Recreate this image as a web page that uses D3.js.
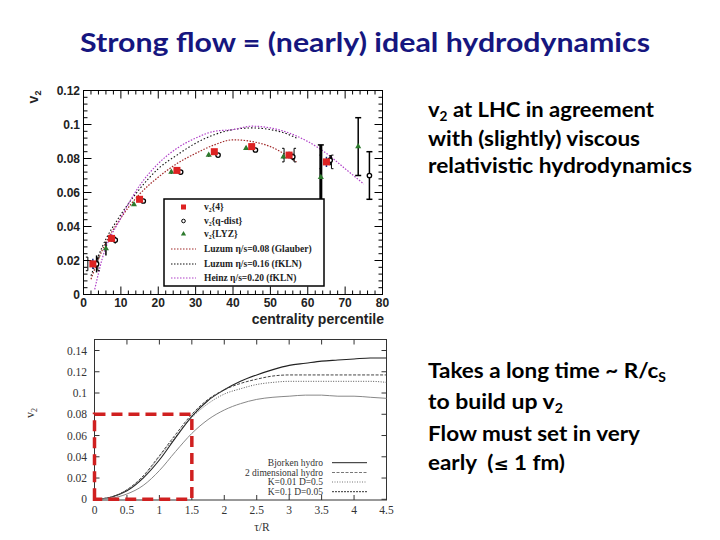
<!DOCTYPE html>
<html><head><meta charset="utf-8">
<script src="https://cdn.jsdelivr.net/npm/d3@7"></script>
<style>body{margin:0;background:#fff}svg{display:block}</style>
</head><body>
<svg id="c" width="720" height="540"></svg>
<script>
// ---- top chart data (v2 vs centrality) ----
const v24X = [2.5, 7.5, 15, 25, 35, 45, 55, 65];
const v24Y = [0.018, 0.033, 0.056, 0.073, 0.084, 0.087, 0.082, 0.078];
const v24E = [0.003, 0.002, 0.001, 0.001, 0.001, 0.0015, 0.002, 0.003];
const qX = [3.5, 8.5, 16, 26, 36, 46, 56, 66, 76.5];
const qY = [0.018, 0.032, 0.055, 0.072, 0.082, 0.085, 0.081, 0.079, 0.070];
const qE = [0.005, 0.002, 0.001, 0.001, 0.001, 0.001, 0.002, 0.003, 0.014];
const lyzX = [6, 13.5, 23.5, 33.5, 43.5, 53.5, 63.5, 73.5];
const lyzY = [0.027, 0.053, 0.072, 0.082, 0.086, 0.081, 0.069, 0.087];
const lyzE = [0.004, 0.001, 0.001, 0.001, 0.001, 0.001, 0.019, 0.017];
const glauberX = [2, 5, 10, 15, 20, 25, 30, 35, 40, 45, 50, 55, 57];
const glauberY = [0.009, 0.026, 0.045, 0.059, 0.069, 0.077, 0.083, 0.088, 0.091, 0.090, 0.087, 0.081, 0.078];
const kln16X = [2, 5, 10, 15, 20, 25, 30, 35, 40, 45, 50, 55, 57];
const kln16Y = [0.011, 0.028, 0.047, 0.062, 0.074, 0.082, 0.089, 0.094, 0.097, 0.098, 0.097, 0.094, 0.092];
const heinzX = [3, 5, 10, 15, 20, 25, 30, 35, 40, 45, 50, 55, 60, 65, 70, 75];
const heinzY = [0.003, 0.021, 0.045, 0.064, 0.077, 0.086, 0.092, 0.096, 0.097, 0.099, 0.098, 0.095, 0.090, 0.083, 0.074, 0.065];
const topXTicks = [0, 10, 20, 30, 40, 50, 60, 70, 80];
const topYTicks = [0, 0.02, 0.04, 0.06, 0.08, 0.1, 0.12];
const topYLabels = ["0", "0.02", "0.04", "0.06", "0.08", "0.1", "0.12"];
const topLegend = ["v\u2082{4}", "v\u2082{q-dist}", "v\u2082{LYZ}", "Luzum \u03b7/s=0.08 (Glauber)", "Luzum \u03b7/s=0.16 (fKLN)", "Heinz \u03b7/s=0.20 (fKLN)"];

// ---- bottom chart data (v2 vs tau/R) ----
const tauX = [0, 0.25, 0.5, 0.75, 1, 1.25, 1.5, 1.75, 2, 2.25, 2.5, 2.75, 3, 3.25, 3.5, 3.75, 4, 4.25, 4.5];
const bjorkenY = [0, 0.002, 0.008, 0.020, 0.037, 0.058, 0.078, 0.093, 0.103, 0.111, 0.117, 0.122, 0.126, 0.128, 0.130, 0.131, 0.132, 0.133, 0.133];
const hydro2dY = [0, 0.002, 0.009, 0.022, 0.041, 0.061, 0.080, 0.094, 0.103, 0.109, 0.113, 0.116, 0.117, 0.117, 0.117, 0.117, 0.117, 0.117, 0.117];
const k001Y = [0, 0.002, 0.009, 0.021, 0.040, 0.059, 0.077, 0.090, 0.099, 0.104, 0.108, 0.110, 0.111, 0.111, 0.111, 0.111, 0.111, 0.111, 0.110];
const k01Y = [0, 0.001, 0.005, 0.013, 0.027, 0.045, 0.062, 0.075, 0.084, 0.090, 0.094, 0.096, 0.097, 0.098, 0.098, 0.097, 0.097, 0.096, 0.095];
const botXTicks = [0, 0.5, 1, 1.5, 2, 2.5, 3, 3.5, 4, 4.5];
const botXLabels = ["0", "0.5", "1", "1.5", "2", "2.5", "3", "3.5", "4", "4.5"];
const botYTicks = [0, 0.02, 0.04, 0.06, 0.08, 0.1, 0.12, 0.14];
const botYLabels = ["0", "0.02", "0.04", "0.06", "0.08", "0.1", "0.12", "0.14"];
const botLegend = ["Bjorken hydro", "2 dimensional hydro", "K=0.01 D=0.5", "K=0.1 D=0.05"];
const boxCorner = [1.5, 0.08];

const svg = d3.select("#c");
const slideFont = "Lato, 'Open Sans', sans-serif";

// ---- title ----
svg.append("text").attr("x", 80).attr("y", 52).attr("textLength", 570).attr("lengthAdjust", "spacingAndGlyphs")
  .attr("font-family", slideFont).attr("font-weight", "bold").attr("font-size", 26).attr("fill", "#16167f")
  .text("Strong flow = (nearly) ideal hydrodynamics");

// ---- right text ----
function richLine(x, y, w, parts) {
  const t = svg.append("text").attr("x", x).attr("y", y).attr("font-family", slideFont)
    .attr("font-weight", "bold").attr("font-size", 21).attr("fill", "#000");
  parts.forEach(p => {
    const s = t.append("tspan").text(p[0]);
    if (p[1] === "sub") s.attr("font-size", 13).attr("dy", 4);
    if (p[1] === "back") s.attr("dy", -4);
    if (p[1] === "sym") s.attr("font-family", "'DejaVu Sans', sans-serif").attr("font-size", 17);
  });
  t.attr("textLength", w).attr("lengthAdjust", "spacingAndGlyphs");
}
richLine(428, 117, 226, [["v"], ["2", "sub"], [" at LHC in agreement", "back"]]);
richLine(428, 146, 212, [["with (slightly) viscous"]]);
richLine(428, 173, 264, [["relativistic hydrodynamics"]]);
richLine(428, 378, 238, [["Takes a long time ~ R/c"], ["S", "sub"]]);
richLine(428, 409, 135, [["to build up v"], ["2", "sub"]]);
richLine(428, 441, 212, [["Flow must set in very"]]);
richLine(428, 470, 137, [["early\u00a0\u00a0("], ["\u2264", "sym"], ["\u00a01 fm)"]]);

// ================= TOP CHART =================
const L = 83.5, R = 382.5, T = 90.5, B = 294.5;
const x = d3.scaleLinear().domain([0, 80]).range([L, R]);
const y = d3.scaleLinear().domain([0, 0.12]).range([B, T]);
const g = svg.append("g");
g.append("rect").attr("x", L).attr("y", T).attr("width", R - L).attr("height", B - T)
  .attr("fill", "none").attr("stroke", "#000").attr("stroke-width", 1);
const xMinor = d3.range(0, 80.01, 2);
const yMinor = d3.range(0, 0.1201, 0.004);
xMinor.forEach(v => {
  const major = Math.abs(v % 10) < 1e-6;
  const len = major ? 8 : 4;
  g.append("line").attr("x1", x(v)).attr("x2", x(v)).attr("y1", B).attr("y2", B - len).attr("stroke", "#000");
  g.append("line").attr("x1", x(v)).attr("x2", x(v)).attr("y1", T).attr("y2", T + len).attr("stroke", "#000");
});
yMinor.forEach((v, i) => {
  const major = i % 5 === 0;
  const len = major ? 8 : 4;
  g.append("line").attr("y1", y(v)).attr("y2", y(v)).attr("x1", L).attr("x2", L + len).attr("stroke", "#000");
  g.append("line").attr("y1", y(v)).attr("y2", y(v)).attr("x1", R).attr("x2", R - len).attr("stroke", "#000");
});
const axFont = "'Liberation Sans', Arial, sans-serif";
topXTicks.forEach(v => g.append("text").attr("x", x(v)).attr("y", 307).attr("text-anchor", "middle")
  .attr("font-family", axFont).attr("font-weight", "bold").attr("font-size", 12).attr("fill", "#222").text(v));
topYTicks.forEach((v, i) => g.append("text").attr("x", 80).attr("y", y(v) + 4).attr("text-anchor", "end")
  .attr("font-family", axFont).attr("font-weight", "bold").attr("font-size", 12).attr("fill", "#222").text(topYLabels[i]));
g.append("text").attr("x", 384).attr("y", 324).attr("text-anchor", "end").attr("font-family", axFont)
  .attr("font-weight", "bold").attr("font-size", 14).attr("fill", "#222").text("centrality percentile");
const yl = g.append("text").attr("transform", "translate(38,97) rotate(-90)").attr("text-anchor", "middle")
  .attr("font-family", axFont).attr("font-weight", "bold").attr("font-size", 14).attr("fill", "#222");
yl.append("tspan").text("v");
yl.append("tspan").attr("font-size", 9).attr("dy", 3).text("2");

const line = d3.line().x(d => x(d[0])).y(d => y(d[1])).curve(d3.curveMonotoneX);
const zip = (a, b) => a.map((v, i) => [v, b[i]]);
g.append("path").attr("d", line(zip(glauberX, glauberY))).attr("fill", "none").attr("stroke", "#a02828")
  .attr("stroke-width", 1.2).attr("stroke-dasharray", "1.5,1.5");
g.append("path").attr("d", line(zip(kln16X, kln16Y))).attr("fill", "none").attr("stroke", "#111")
  .attr("stroke-width", 1.1).attr("stroke-dasharray", "1.5,2");
g.append("path").attr("d", line(zip(heinzX, heinzY))).attr("fill", "none").attr("stroke", "#b040c8")
  .attr("stroke-width", 1.2).attr("stroke-dasharray", "1.5,1.5");

function errBars(X, Y, E, color, widths) {
  X.forEach((v, i) => {
    g.append("line").attr("x1", x(v)).attr("x2", x(v)).attr("y1", y(Y[i] - E[i])).attr("y2", y(Y[i] + E[i]))
      .attr("stroke", color).attr("stroke-width", widths ? widths[i] : 1.5);
    if (E[i] > 0.005) {
      [Y[i] - E[i], Y[i] + E[i]].forEach(e => g.append("line").attr("x1", x(v) - 3).attr("x2", x(v) + 3)
        .attr("y1", y(e)).attr("y2", y(e)).attr("stroke", color).attr("stroke-width", 1.5));
    }
  });
}
v24X.forEach((v, i) => {
  if (i === 0 || i >= 6) {
    const h = 0.004;
    [-1, 1].forEach(s => {
      const xx = x(v) + s * 5;
      g.append("path").attr("d", `M${xx + s * 2},${y(v24Y[i] + h)}H${xx}V${y(v24Y[i] - h)}H${xx + s * 2}`)
        .attr("fill", "none").attr("stroke", "#000").attr("stroke-width", 1);
    });
  }
});
errBars(qX, qY, qE, "#000", qX.map(() => 1.5));
errBars(lyzX, lyzY, lyzE, "#000", lyzX.map((v, i) => i === 6 ? 3 : 1.5));
errBars(v24X, v24Y, v24E, "#1a2a80");
g.selectAll(".q").data(zip(qX, qY)).join("circle").attr("cx", d => x(d[0])).attr("cy", d => y(d[1]))
  .attr("r", 2.2).attr("fill", "#fff").attr("stroke", "#000").attr("stroke-width", 1.3);
const tri = d3.symbol().type(d3.symbolTriangle).size(16);
g.selectAll(".t").data(zip(lyzX, lyzY)).join("path").attr("d", tri)
  .attr("transform", d => `translate(${x(d[0])},${y(d[1])})`).attr("fill", "#2d7a2d");
g.selectAll(".s").data(zip(v24X, v24Y)).join("rect").attr("x", d => x(d[0]) - 3.5).attr("y", d => y(d[1]) - 3.5)
  .attr("width", 7).attr("height", 7).attr("fill", "#dd2222");

const lg = g.append("g");
lg.append("rect").attr("x", 164).attr("y", 199).attr("width", 160).attr("height", 87)
  .attr("fill", "#fff").attr("stroke", "#000").attr("stroke-width", 1.5);
const legY = [207, 221, 234, 249, 264, 278];
const legCols = ["#a02828", "#111", "#b040c8"];
topLegend.forEach((t, i) => {
  lg.append("text").attr("x", 204).attr("y", legY[i] + 3).attr("font-family", "'Liberation Serif', serif")
    .attr("font-weight", "bold").attr("font-size", 9.5).attr("fill", "#222").text(t);
  if (i >= 3) {
    lg.append("line").attr("x1", 171).attr("x2", 196).attr("y1", legY[i]).attr("y2", legY[i])
      .attr("stroke", legCols[i - 3]).attr("stroke-width", 1.1).attr("stroke-dasharray", "1.5,1.5");
  }
});
lg.append("rect").attr("x", 181).attr("y", legY[0] - 2.5).attr("width", 5).attr("height", 5).attr("fill", "#dd2222");
lg.append("circle").attr("cx", 183.5).attr("cy", legY[1]).attr("r", 1.8).attr("fill", "#fff").attr("stroke", "#000");
lg.append("path").attr("d", d3.symbol().type(d3.symbolTriangle).size(12)).attr("transform", `translate(183.5,${legY[2]})`).attr("fill", "#2d7a2d");

// ================= BOTTOM CHART =================
const L2 = 94.5, R2 = 386.5, T2 = 339.5, B2 = 500;
const x2 = d3.scaleLinear().domain([0, 4.5]).range([L2, R2]);
const y2 = d3.scaleLinear().domain([0, 0.14]).range([499.3, 350.5]);
const g2 = svg.append("g");
g2.append("rect").attr("x", L2).attr("y", T2).attr("width", R2 - L2).attr("height", B2 - T2)
  .attr("fill", "none").attr("stroke", "#333").attr("stroke-width", 1);
const serif = "'Liberation Serif', 'DejaVu Serif', serif";
botYTicks.forEach((v, i) => {
  g2.append("line").attr("x1", L2).attr("x2", L2 + 5).attr("y1", y2(v)).attr("y2", y2(v)).attr("stroke", "#333");
  g2.append("line").attr("x1", R2).attr("x2", R2 - 5).attr("y1", y2(v)).attr("y2", y2(v)).attr("stroke", "#333");
  g2.append("text").attr("x", 87).attr("y", y2(v) + 4).attr("text-anchor", "end").attr("font-family", serif)
    .attr("font-size", 11.5).attr("fill", "#333").text(botYLabels[i]);
});
botXTicks.forEach((v, i) => {
  g2.append("line").attr("x1", x2(v)).attr("x2", x2(v)).attr("y1", B2).attr("y2", B2 - 5).attr("stroke", "#333");
  g2.append("line").attr("x1", x2(v)).attr("x2", x2(v)).attr("y1", T2).attr("y2", T2 + 5).attr("stroke", "#333");
  g2.append("text").attr("x", x2(v)).attr("y", 514).attr("text-anchor", "middle").attr("font-family", serif)
    .attr("font-size", 11.5).attr("fill", "#333").text(botXLabels[i]);
});
g2.append("text").attr("x", 262).attr("y", 531).attr("text-anchor", "middle").attr("font-family", serif)
  .attr("font-size", 11.5).attr("fill", "#333").text("\u03c4/R");
const yl2 = g2.append("text").attr("transform", "translate(34,413) rotate(-90)").attr("text-anchor", "middle")
  .attr("font-family", serif).attr("font-size", 12).attr("fill", "#333");
yl2.append("tspan").text("v");
yl2.append("tspan").attr("font-size", 8).attr("dy", 3).text("2");

const line2 = d3.line().x(d => x2(d[0])).y(d => y2(d[1])).curve(d3.curveMonotoneX);
const bStyles = [
  {c: "#222", w: 1.1, d: null, y: bjorkenY},
  {c: "#444", w: 1, d: "3,1.5", y: hydro2dY},
  {c: "#555", w: 1, d: "1,1.5", y: k001Y},
  {c: "#888", w: 1, d: null, y: k01Y}
];
bStyles.forEach(s => {
  const p = g2.append("path").attr("d", line2(zip(tauX, s.y))).attr("fill", "none").attr("stroke", s.c).attr("stroke-width", s.w);
  if (s.d) p.attr("stroke-dasharray", s.d);
});
const legY2 = [462.7, 472.5, 482, 491.7];
const legStyles = [{c: "#222", d: null}, {c: "#777", d: "3,1.5"}, {c: "#777", d: "1,1.5"}, {c: "#333", d: "2,1"}];
botLegend.forEach((t, i) => {
  g2.append("text").attr("x", 323).attr("y", legY2[i] + 3).attr("text-anchor", "end").attr("font-family", serif)
    .attr("font-size", 9.5).attr("fill", "#333").text(t);
  const l = g2.append("line").attr("x1", 332).attr("x2", 367).attr("y1", legY2[i]).attr("y2", legY2[i])
    .attr("stroke", legStyles[i].c).attr("stroke-width", 1);
  if (legStyles[i].d) l.attr("stroke-dasharray", legStyles[i].d);
});
g2.append("path").attr("d", `M${x2(0)},${y2(0)}V${y2(boxCorner[1])}H${x2(boxCorner[0])}V${y2(0)}Z`)
  .attr("fill", "none").attr("stroke", "#d02020").attr("stroke-width", 3.5).attr("stroke-dasharray", "11,6");
</script>
</body></html>
